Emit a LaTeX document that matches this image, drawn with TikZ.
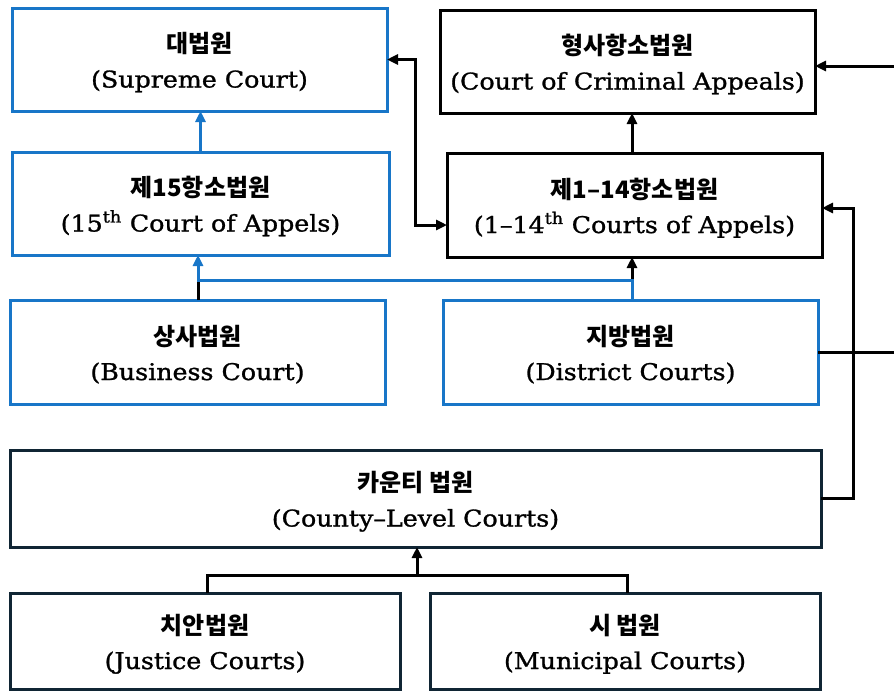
\documentclass[tikz,border=0pt]{standalone}
\usepackage{fontspec}
\setmainfont{DejaVu Serif}[FakeStretch=1.1,FakeBold=1.2]
\newfontfamily\krfont{Noto Sans CJK KR}
\usetikzlibrary{arrows.meta}
\definecolor{cblue}{RGB}{24,118,200}
\definecolor{cnavy}{RGB}{16,37,52}
% #1 name, #2 style, #3 cx, #4 cy, #5 w, #6 h, #7 korean, #8 english
\newcommand\court[8]{%
  \node[#2, minimum width=#5pt, minimum height=#6pt] (#1) at (#3,#4) {};
  \node[krtext, anchor=base] (#1-k) at ([yshift=7pt]#1.center) {#7};
  \node[entext, anchor=base] (#1-e) at ([yshift=-28pt]#1.center) {#8};
}
\begin{document}
\begin{tikzpicture}[x=1pt,y=-1pt,
  boxbase/.style={draw, line width=3pt, fill=white, inner sep=0pt, outer sep=0pt},
  boxblue/.style={boxbase, draw=cblue},
  boxblack/.style={boxbase, draw=black},
  boxnavy/.style={boxbase, draw=cnavy},
  krtext/.style={inner sep=0pt, font=\krfont\bfseries\fontsize{24}{28}\selectfont},
  entext/.style={inner sep=0pt, font=\fontsize{23}{28}\selectfont},
  conblack/.style={draw=black, line width=3pt},
  conblue/.style={draw=cblue, line width=3pt},
  >={Triangle[length=11pt,width=10pt]}
]
\useasboundingbox[fill=white] (0,0) rectangle (894,691);

\court{sup}{boxblue}{199.5}{59.5}{375}{103}{대법원}{(Supreme Court)}
\court{crim}{boxblack}{627.5}{61.5}{375}{103}{형사항소법원}{(Court of Criminal Appeals)}
\court{cf}{boxblue}{200.5}{203.5}{377}{103}{제15항소법원}{(15\textsuperscript{th} Court of Appels)}
\court{ca}{boxblack}{634.5}{205}{375}{104}{제1–14항소법원}{(1–14\textsuperscript{th} Courts of Appels)}
\court{bus}{boxblue}{197.5}{352}{375}{104}{상사법원}{(Business Court)}
\court{dis}{boxblue}{630.5}{352}{375}{104}{지방법원}{(District Courts)}
\court{cty}{boxnavy}{415.5}{498.5}{811}{97}{카운티 법원}{(County–Level Courts)}
\court{jus}{boxnavy}{205}{641}{390}{96}{치안법원}{(Justice Courts)}
\court{mun}{boxnavy}{625}{641}{390}{96}{시 법원}{(Municipal Courts)}

\coordinate (xl) at (415,0);
\coordinate (xa) at (632,0);
\coordinate (hb) at (198,280);
\coordinate (hd) at (632,280);
\coordinate (xr) at (853,0);
\coordinate (xo) at (910,0);
\coordinate (jm) at (417,575);
\coordinate (xj) at (207,0);
\coordinate (xm) at (627,0);

% Supreme <-> Courts of Appeals 1-14
\draw[conblack, <->] (sup.east) -- (sup.east -| xl) |- ([yshift=-20pt]ca.west);
% 15th -> Supreme
\draw[conblue, ->] (cf.north) -- (cf.north |- sup.south);
% 1-14 -> Criminal Appeals
\draw[conblack, ->] (ca.north -| xa) -- (crim.south -| xa);
% Business -> 1-14
\draw[conblack, ->] (bus.north -| hb) -- (hb) -- (hd) -- (ca.south -| hd);
% District -> 15th
\draw[conblue, ->] (dis.north -| hd) -- (hd) -- (hb) -- (cf.south -| hb);
% District -> Criminal Appeals (running off the right edge)
\draw[conblack, ->] (dis.east) -- (dis.east -| xo) |- ([yshift=-4.5pt]crim.east);
% County -> 1-14
\draw[conblack, ->] (cty.east) -- (cty.east -| xr) |- ([yshift=-3pt]ca.east);
% Justice, Municipal -> County
\draw[conblack] (jus.north -| xj) -- (xj |- jm) -- (xm |- jm) -- (mun.north -| xm);
\draw[conblack, ->] (jm) -- (cty.south -| jm);
\end{tikzpicture}
\end{document}
